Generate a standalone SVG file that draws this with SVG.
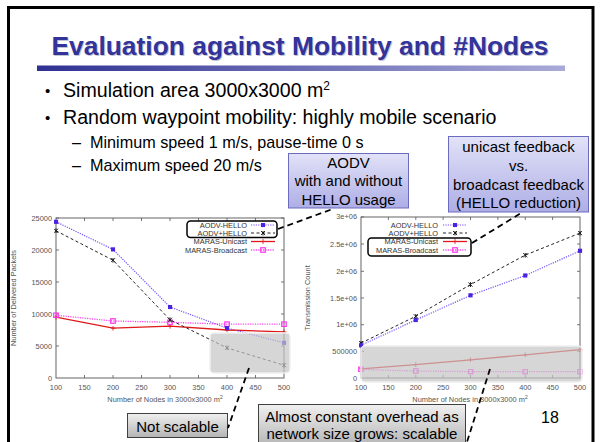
<svg xmlns="http://www.w3.org/2000/svg" width="601" height="442" viewBox="0 0 601 442">
  <defs>
    <linearGradient id="bar" x1="0" y1="0" x2="1" y2="0">
      <stop offset="0" stop-color="#2e3192"/>
      <stop offset="1" stop-color="#aaaad8"/>
    </linearGradient>
    <linearGradient id="blueBox" x1="0" y1="0" x2="0" y2="1">
      <stop offset="0" stop-color="#e2e2f8"/>
      <stop offset="1" stop-color="#aeaee6"/>
    </linearGradient>
    <linearGradient id="grayBox" x1="0" y1="0" x2="0" y2="1">
      <stop offset="0" stop-color="#f0f0f0"/>
      <stop offset="1" stop-color="#b4b4b4"/>
    </linearGradient>
    <marker id="sqFill" viewBox="0 0 6 6" refX="3" refY="3" markerWidth="5" markerHeight="5" markerUnits="userSpaceOnUse">
      <rect x="0.5" y="0.5" width="5" height="5" fill="#4a22e0"/>
    </marker>
    <marker id="sqOpen" viewBox="0 0 8 8" refX="4" refY="4" markerWidth="6" markerHeight="6" markerUnits="userSpaceOnUse">
      <rect x="1" y="1" width="6" height="6" fill="none" stroke="#ff33ee" stroke-width="1.6"/>
    </marker>
    <marker id="cross" viewBox="0 0 6 6" refX="3" refY="3" markerWidth="5" markerHeight="5" markerUnits="userSpaceOnUse">
      <path d="M0.5 0.5L5.5 5.5M5.5 0.5L0.5 5.5M3 0V6" stroke="#111" stroke-width="1.1"/>
    </marker>
    <marker id="plus" viewBox="0 0 6 6" refX="3" refY="3" markerWidth="5" markerHeight="5" markerUnits="userSpaceOnUse">
      <path d="M0 3H6M3 0V6" stroke="#e01818" stroke-width="1"/>
    </marker>
  </defs>
  <style>
    .title { font-family: "Liberation Sans", Arial, sans-serif; font-weight: bold; font-size: 26.4px; fill: #333399; }
    .shadow { font-family: "Liberation Sans", Arial, sans-serif; font-weight: bold; font-size: 26.4px; fill: #c4c4d4; }
    .b1 { font-family: "Liberation Sans", Arial, sans-serif; font-size: 19.6px; fill: #000; }
    .dot { font-family: "Liberation Sans", Arial, sans-serif; font-size: 15px; fill: #000; }
    .b2 { font-family: "Liberation Sans", Arial, sans-serif; font-size: 16.2px; fill: #000; }
    .box { font-family: "Liberation Sans", Arial, sans-serif; font-size: 15px; fill: #000; text-anchor: middle; }
    .gbox { font-family: "Liberation Sans", Arial, sans-serif; font-size: 15px; fill: #000; text-anchor: middle; }
    .tick { font-family: "Liberation Sans", Arial, sans-serif; font-size: 7.4px; fill: #555; }
    .leg { font-family: "Liberation Sans", Arial, sans-serif; font-size: 7.4px; fill: #333; text-anchor: end; }
    .axis { fill: none; stroke: #555; stroke-width: 0.9; }
    .tk { stroke: #555; stroke-width: 0.8; }
    .hello { fill: none; stroke: #7050ff; stroke-width: 1.2; stroke-dasharray: 1.2 1.2; }
    .plushello { fill: none; stroke: #222; stroke-width: 1; stroke-dasharray: 3 2.5; }
    .uni { fill: none; stroke: #e01818; stroke-width: 1.3; }
    .bcast { fill: none; stroke: #ff44ee; stroke-width: 1.3; stroke-dasharray: 1.2 1.2; }
    .conn { fill: none; stroke: #000; stroke-width: 1.8; stroke-dasharray: 6 4; }
    .shade { fill: #c4c4c4; fill-opacity: 0.7; stroke: #f0f0f0; stroke-width: 1.5; }
    .legbox { fill: none; stroke: #000; stroke-width: 1.5; }
  </style>

  <!-- slide frame -->
  <rect x="0" y="0" width="601" height="442" fill="#fff"/>
  <path d="M8.5 442V7.5H593V442" fill="none" stroke="#000" stroke-width="3"/>

  <!-- heading -->
  <g id="heading">
    <text class="shadow" x="301" y="56" text-anchor="middle">Evaluation against Mobility and #Nodes</text>
    <text class="title" x="300" y="55" text-anchor="middle">Evaluation against Mobility and #Nodes</text>
    <rect x="37" y="65.5" width="528" height="5.5" fill="url(#bar)"/>
  </g>

  <!-- bullet list -->
  <g id="bullets">
    <text class="dot" x="45" y="96">•</text>
    <text class="b1" x="63" y="97">Simulation area 3000x3000 m<tspan font-size="12px" dy="-7">2</tspan></text>
    <text class="dot" x="45" y="123">•</text>
    <text class="b1" x="63" y="124">Random waypoint mobility: highly mobile scenario</text>
    <text class="b2" x="72" y="148">–</text>
    <text class="b2" x="90" y="148">Minimum speed 1 m/s, pause-time 0 s</text>
    <text class="b2" x="72" y="171">–</text>
    <text class="b2" x="90" y="171">Maximum speed 20 m/s</text>
  </g>

  <!-- left chart: delivered packets -->
  <g id="chart-delivered">
    <rect class="axis" x="56" y="218" width="228" height="160"/>
    <g class="tk">
      <path d="M56 218h3M56 250h3M56 282h3M56 314h3M56 346h3M284 218h-3M284 250h-3M284 282h-3M284 314h-3M284 346h-3"/>
      <path d="M84.5 378v-3M113 378v-3M141.5 378v-3M170 378v-3M198.5 378v-3M227 378v-3M255.5 378v-3M84.5 218v3M113 218v3M141.5 218v3M170 218v3M198.5 218v3M227 218v3M255.5 218v3"/>
    </g>
    <g class="tick" text-anchor="end">
      <text x="52" y="220.5">25000</text>
      <text x="52" y="252.5">20000</text>
      <text x="52" y="284.5">15000</text>
      <text x="52" y="316.5">10000</text>
      <text x="52" y="348.5">5000</text>
      <text x="52" y="380.5">0</text>
    </g>
    <g class="tick" text-anchor="middle">
      <text x="56" y="390">100</text>
      <text x="84.5" y="390">150</text>
      <text x="113" y="390">200</text>
      <text x="141.5" y="390">250</text>
      <text x="170" y="390">300</text>
      <text x="198.5" y="390">350</text>
      <text x="227" y="390">400</text>
      <text x="255.5" y="390">450</text>
      <text x="284" y="390">500</text>
      <text x="165" y="402">Number of Nodes in 3000x3000 m<tspan font-size="5px" dy="-3">2</tspan></text>
      <text transform="translate(16 298) rotate(-90)">Number of Delivered Packets</text>
    </g>
    <polyline class="uni" points="56,317.2 113,328.1 170,326.2 227,330 284,331.9" marker-start="url(#plus)" marker-mid="url(#plus)" marker-end="url(#plus)"/>
    <polyline class="bcast" points="56,315.3 113,321 170,322.3 227,324.2 284,324.2" marker-start="url(#sqOpen)" marker-mid="url(#sqOpen)" marker-end="url(#sqOpen)"/>
    <polyline class="plushello" points="56,230.8 113,260.2 170,319.8 227,347.9 284,365.2" marker-start="url(#cross)" marker-mid="url(#cross)" marker-end="url(#cross)"/>
    <polyline class="hello" points="56,221.8 113,249.4 170,307 227,328.1 284,342.8" marker-start="url(#sqFill)" marker-mid="url(#sqFill)" marker-end="url(#sqFill)"/>
    <!-- key -->
    <text class="leg" x="247" y="227.5">AODV-HELLO</text>
    <polyline class="hello" points="251,225 263,225 275,225" marker-mid="url(#sqFill)"/>
    <text class="leg" x="247" y="235.5">AODV+HELLO</text>
    <polyline class="plushello" points="251,233 263,233 275,233" marker-mid="url(#cross)"/>
    <text class="leg" x="247" y="244">MARAS-Unicast</text>
    <polyline class="uni" points="251,241.5 263,241.5 275,241.5" marker-mid="url(#plus)"/>
    <text class="leg" x="247" y="252.5">MARAS-Broadcast</text>
    <polyline class="bcast" points="251,250 263,250 275,250" marker-mid="url(#sqOpen)"/>
    <rect class="legbox" x="187" y="221" width="90" height="16.5" rx="3.5"/>
    <rect class="shade" x="210" y="333" width="80" height="40" rx="4"/>
  </g>

  <!-- right chart: transmission count -->
  <g id="chart-transmissions">
    <rect class="axis" x="361" y="217" width="219" height="161"/>
    <g class="tk">
      <path d="M361 217h3M361 244h3M361 271.3h3M361 298h3M361 324.7h3M361 351.3h3M580 244h-3M580 271.3h-3M580 298h-3M580 324.7h-3M580 351.3h-3"/>
      <path d="M388.4 378v-3M415.8 378v-3M443.1 378v-3M470.5 378v-3M497.9 378v-3M525.3 378v-3M552.6 378v-3M388.4 217v3M415.8 217v3M443.1 217v3M470.5 217v3M497.9 217v3M525.3 217v3M552.6 217v3"/>
    </g>
    <g class="tick" text-anchor="end">
      <text x="357" y="219">3e+06</text>
      <text x="357" y="246.5">2.5e+06</text>
      <text x="357" y="273.8">2e+06</text>
      <text x="357" y="300.5">1.5e+06</text>
      <text x="357" y="327.2">1e+06</text>
      <text x="357" y="353.8">500000</text>
      <text x="357" y="380.5">0</text>
    </g>
    <g class="tick" text-anchor="middle">
      <text x="361" y="390">100</text>
      <text x="388.4" y="390">150</text>
      <text x="415.8" y="390">200</text>
      <text x="443.1" y="390">250</text>
      <text x="470.5" y="390">300</text>
      <text x="497.9" y="390">350</text>
      <text x="525.3" y="390">400</text>
      <text x="552.6" y="390">450</text>
      <text x="580" y="390">500</text>
      <text x="470" y="402">Number of Nodes in 3000x3000 m<tspan font-size="5px" dy="-3">2</tspan></text>
      <text transform="translate(310 298) rotate(-90)">Transmission Count</text>
    </g>
    <polyline class="uni" points="361,368.9 415.75,364.6 470.5,359.8 525.25,354.9 580,349.6" marker-start="url(#plus)" marker-mid="url(#plus)" marker-end="url(#plus)"/>
    <polyline class="bcast" points="361,369.4 415.75,371 470.5,371.6 525.25,371.6 580,371.6" marker-start="url(#sqOpen)" marker-mid="url(#sqOpen)" marker-end="url(#sqOpen)"/>
    <polyline class="plushello" points="361,343.1 415.75,316.3 470.5,284.6 525.25,255.1 580,233.1" marker-start="url(#cross)" marker-mid="url(#cross)" marker-end="url(#cross)"/>
    <polyline class="hello" points="361,345.3 415.75,320 470.5,295.3 525.25,275.5 580,250.8" marker-start="url(#sqFill)" marker-mid="url(#sqFill)" marker-end="url(#sqFill)"/>
    <!-- key -->
    <text class="leg" x="438" y="227.5">AODV-HELLO</text>
    <polyline class="hello" points="443,225 455,225 467,225" marker-mid="url(#sqFill)"/>
    <text class="leg" x="438" y="235.5">AODV+HELLO</text>
    <polyline class="plushello" points="443,233 455,233 467,233" marker-mid="url(#cross)"/>
    <text class="leg" x="438" y="244">MARAS-Unicast</text>
    <polyline class="uni" points="443,241.5 455,241.5 467,241.5" marker-mid="url(#plus)"/>
    <text class="leg" x="438" y="252.5">MARAS-Broadcast</text>
    <polyline class="bcast" points="443,250 455,250 467,250" marker-mid="url(#sqOpen)"/>
    <rect class="legbox" x="368" y="238" width="103" height="18" rx="3.5"/>
    <rect class="shade" x="361" y="346" width="221" height="36" rx="4"/>
  </g>

  <!-- callouts -->
  <g id="note-aodv">
    <rect x="288.5" y="153.5" width="120" height="54.5" fill="url(#blueBox)" stroke="#6b6bbf" stroke-width="1"/>
    <text class="box" x="348.5" y="167.5">AODV</text>
    <text class="box" x="348.5" y="186">with and without</text>
    <text class="box" x="348.5" y="204.5">HELLO usage</text>
  </g>
  <g id="note-feedback">
    <rect x="448.5" y="136.5" width="140" height="75.5" fill="url(#blueBox)" stroke="#6b6bbf" stroke-width="1"/>
    <text class="box" x="518.5" y="152">unicast feedback</text>
    <text class="box" x="518.5" y="171">vs.</text>
    <text class="box" x="518.5" y="190">broadcast feedback</text>
    <text class="box" x="518.5" y="208">(HELLO reduction)</text>
  </g>
  <g id="note-not-scalable">
    <rect x="127.5" y="413.5" width="100" height="24" fill="url(#grayBox)" stroke="#404040" stroke-width="1"/>
    <text class="gbox" x="177.5" y="431.5" font-size="16.5px">Not scalable</text>
  </g>
  <g id="note-scalable">
    <rect x="258.5" y="404.5" width="207" height="42" fill="url(#grayBox)" stroke="#404040" stroke-width="1"/>
    <text class="gbox" x="362" y="422">Almost constant overhead as</text>
    <text class="gbox" x="362" y="438.5">network size grows: scalable</text>
  </g>

  <!-- dashed leader lines -->
  <g id="connectors">
    <path class="conn" d="M278 229L334 208.5"/>
    <path class="conn" d="M472 243L522 212.5"/>
    <path class="conn" d="M249 368L228 428"/>
    <path class="conn" d="M490 369L467 442"/>
  </g>

  <text x="550" y="423" font-family="Liberation Sans, Arial, sans-serif" font-size="16px" text-anchor="middle">18</text>
</svg>
